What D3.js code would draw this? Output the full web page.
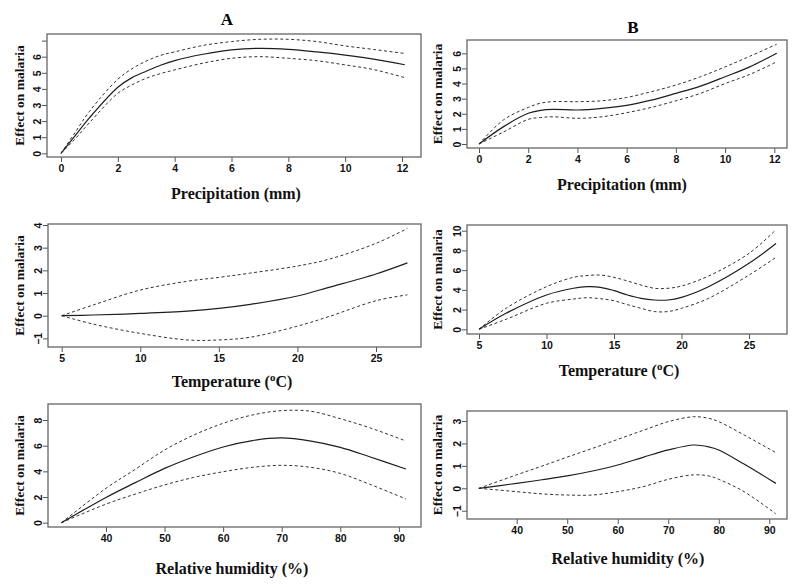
<!DOCTYPE html>
<html><head><meta charset="utf-8">
<script src="https://cdn.jsdelivr.net/npm/d3@7"></script>
<style>
body{margin:0;background:#fff;}
svg{display:block;}
</style></head>
<body>
<svg id="chart" width="800" height="587"></svg>
<script>
// ---------- DATA ----------
// Panel A, precipitation
const precipA_x     = [0, 0.5, 1, 2, 2.5, 3, 3.5, 4, 5, 6, 7, 8, 9, 10, 11, 12.1];
const precipA_fit   = [0, 1.1, 2.2, 4.1, 4.7, 5.1, 5.47, 5.76, 6.15, 6.42, 6.52, 6.46, 6.3, 6.1, 5.85, 5.5];
const precipA_upper = [0, 1.3, 2.6, 4.6, 5.25, 5.73, 6.08, 6.3, 6.7, 6.94, 7.08, 7.08, 6.94, 6.67, 6.45, 6.2];
const precipA_lower = [0, 0.9, 1.9, 3.73, 4.25, 4.66, 4.95, 5.18, 5.6, 5.9, 6.0, 5.9, 5.75, 5.49, 5.2, 4.7];
// Panel B, precipitation
const precipB_x     = [0, 1, 2, 2.5, 3, 4, 5, 6, 7, 8, 9, 10, 11, 12.1];
const precipB_fit   = [0, 1.15, 2.03, 2.22, 2.29, 2.25, 2.36, 2.56, 2.9, 3.35, 3.83, 4.45, 5.1, 6.0];
const precipB_upper = [0, 1.6, 2.42, 2.7, 2.8, 2.8, 2.86, 3.08, 3.46, 3.9, 4.45, 5.1, 5.8, 6.6];
const precipB_lower = [0, 0.8, 1.63, 1.75, 1.8, 1.7, 1.8, 2.07, 2.42, 2.86, 3.35, 4.0, 4.6, 5.44];
// Panel A, temperature
const tempA_x     = [5, 7, 10, 13, 15, 17, 20, 22, 25, 27];
const tempA_fit   = [0, 0.03, 0.1, 0.2, 0.32, 0.5, 0.87, 1.25, 1.84, 2.33];
const tempA_upper = [0, 0.47, 1.13, 1.52, 1.69, 1.88, 2.19, 2.49, 3.19, 3.85];
const tempA_lower = [0, -0.37, -0.78, -1.07, -1.07, -0.95, -0.46, -0.04, 0.66, 0.92];
// Panel B, temperature
const tempB_x     = [5, 7, 10, 12, 13, 14, 15, 16, 17, 18, 19, 20, 22, 25, 27];
const tempB_fit   = [0, 1.62, 3.48, 4.16, 4.32, 4.26, 3.92, 3.48, 3.14, 2.97, 2.97, 3.24, 4.32, 6.69, 8.7];
const tempB_upper = [0, 2.13, 4.32, 5.27, 5.45, 5.5, 5.27, 4.9, 4.49, 4.16, 4.16, 4.39, 5.4, 7.7, 10.1];
const tempB_lower = [0, 1.01, 2.64, 3.07, 3.2, 3.1, 2.9, 2.5, 2.13, 1.8, 1.8, 2.13, 3.14, 5.5, 7.3];
// Panel A, relative humidity
const humA_x     = [32.4, 40, 45, 50, 55, 60, 65, 70, 75, 80, 85, 91.2];
const humA_fit   = [0, 1.97, 3.12, 4.23, 5.14, 5.9, 6.4, 6.6, 6.35, 5.87, 5.14, 4.18];
const humA_upper = [0, 2.68, 4.16, 5.66, 6.83, 7.74, 8.39, 8.73, 8.68, 8.1, 7.4, 6.37];
const humA_lower = [0, 1.45, 2.23, 2.94, 3.53, 3.97, 4.31, 4.47, 4.31, 3.84, 3.0, 1.85];
// Panel B, relative humidity
const humB_x     = [32.5, 40, 45, 50, 55, 60, 65, 70, 75, 78, 80, 85, 91.3];
const humB_fit   = [0, 0.22, 0.38, 0.55, 0.77, 1.04, 1.38, 1.71, 1.93, 1.85, 1.71, 1.08, 0.22];
const humB_upper = [0, 0.6, 0.99, 1.39, 1.78, 2.18, 2.58, 2.97, 3.19, 3.12, 2.97, 2.38, 1.59];
const humB_lower = [0, -0.15, -0.25, -0.3, -0.3, -0.15, 0.07, 0.4, 0.6, 0.55, 0.4, -0.15, -1.14];

// Tick values and labels
const precipXTicks = [0, 2, 4, 6, 8, 10, 12];
const precipAYTicks = [0, 1, 2, 3, 4, 5, 6, 7];
const precipAYLabels = ["0", "1", "2", "3", "4", "5", "6", ""];
const precipBYTicks = [0, 1, 2, 3, 4, 5, 6];
const tempXTicks = [5, 10, 15, 20, 25];
const tempAYTicks = [-1, 0, 1, 2, 3, 4];
const tempBYTicks = [0, 2, 4, 6, 8, 10];
const humXTicks = [40, 50, 60, 70, 80, 90];
const humAYTicks = [0, 2, 4, 6, 8];
const humBYTicks = [-1, 0, 1, 2, 3];

const yTitle = "Effect on malaria";
const panelTitles = ["A", "B"];

// ---------- LAYOUT ----------
const svg = d3.select("#chart");
const serif = "'Liberation Serif','Times New Roman',serif";
const sans = "'Liberation Sans',Arial,sans-serif";

const panels = [
  {x: precipA_x, fit: precipA_fit, up: precipA_upper, lo: precipA_lower,
   box: [47, 34, 421, 157], xd: [0, 12], xr: [61, 402], yd: [0, 6], yr: [153.3, 56.7],
   xt: precipXTicks, yt: precipAYTicks, yl: precipAYLabels, title: "Precipitation (mm)", tx: 236, ty: 199, ytx: 19},
  {x: precipB_x, fit: precipB_fit, up: precipB_upper, lo: precipB_lower,
   box: [467, 40, 787, 148], xd: [0, 12], xr: [479, 774.3], yd: [0, 6], yr: [144, 53.3],
   xt: precipXTicks, yt: precipBYTicks, title: "Precipitation (mm)", tx: 622, ty: 190, ytx: 437},
  {x: tempA_x, fit: tempA_fit, up: tempA_upper, lo: tempA_lower,
   box: [48, 224, 421, 347], xd: [5, 25], xr: [61.7, 376], yd: [0, 4], yr: [315.7, 225],
   xt: tempXTicks, yt: tempAYTicks, title: "temp", tx: 232, ty: 387, ytx: 19},
  {x: tempB_x, fit: tempB_fit, up: tempB_upper, lo: tempB_lower,
   box: [467, 225, 787, 334], xd: [5, 25], xr: [479, 749], yd: [0, 10], yr: [329.3, 230.7],
   xt: tempXTicks, yt: tempBYTicks, title: "temp", tx: 619, ty: 376, ytx: 437},
  {x: humA_x, fit: humA_fit, up: humA_upper, lo: humA_lower,
   box: [48, 404, 421, 527], xd: [40, 70], xr: [106, 281.7], yd: [0, 8], yr: [522.7, 420],
   xt: humXTicks, yt: humAYTicks, title: "Relative humidity (%)", tx: 232, ty: 574, ytx: 19},
  {x: humB_x, fit: humB_fit, up: humB_upper, lo: humB_lower,
   box: [467, 411, 787, 519], xd: [40, 90], xr: [516.7, 769.3], yd: [0, 3], yr: [488.3, 421],
   xt: humXTicks, yt: humBYTicks, title: "Relative humidity (%)", tx: 628, ty: 564, ytx: 437}
];

// panel letters
svg.append("text").attr("x", 227).attr("y", 25).attr("text-anchor", "middle")
  .style("font-family", serif).style("font-weight", "bold").style("font-size", "17px")
  .text(panelTitles[0]);
svg.append("text").attr("x", 633).attr("y", 33).attr("text-anchor", "middle")
  .style("font-family", serif).style("font-weight", "bold").style("font-size", "17px")
  .text(panelTitles[1]);

panels.forEach(p => {
  const g = svg.append("g");
  const xs = d3.scaleLinear().domain(p.xd).range(p.xr);
  const ys = d3.scaleLinear().domain(p.yd).range(p.yr);
  const [bx0, by0, bx1, by1] = p.box;

  // x axis
  const xa = g.append("g").attr("transform", `translate(0,${by1})`)
    .call(d3.axisBottom(xs).tickValues(p.xt).tickSize(5).tickPadding(3).tickFormat(d3.format("d")));
  xa.select(".domain").remove();
  xa.selectAll("line").attr("stroke", "#555").attr("stroke-width", 1);
  xa.selectAll("text").style("font-family", sans).style("font-weight", "bold")
    .style("font-size", "10.5px").attr("fill", "#111");

  // y axis
  const ya = g.append("g").attr("transform", `translate(${bx0},0)`)
    .call(d3.axisLeft(ys).tickValues(p.yt).tickSize(5)
      .tickFormat((d, i) => p.yl ? p.yl[i] : d3.format("d")(d)));
  ya.select(".domain").remove();
  ya.selectAll("line").attr("stroke", "#555").attr("stroke-width", 1);
  ya.selectAll("text").attr("transform", "rotate(-90)").attr("x", 0).attr("y", -6).attr("dy", 0)
    .attr("text-anchor", "middle")
    .style("font-family", sans).style("font-weight", "bold").style("font-size", "10.5px").attr("fill", "#111");

  // box
  g.append("rect").attr("x", bx0).attr("y", by0).attr("width", bx1 - bx0).attr("height", by1 - by0)
    .attr("fill", "none").attr("stroke", "#666").attr("stroke-width", 1.3);

  // curves
  const mk = vals => p.x.map((xv, i) => [xv, vals[i]]);
  const line = d3.line().x(d => xs(d[0])).y(d => ys(d[1])).curve(d3.curveCatmullRom.alpha(0.5));
  g.append("path").attr("d", line(mk(p.up))).attr("fill", "none").attr("stroke", "#333")
    .attr("stroke-width", 1).attr("stroke-dasharray", "3,2.5");
  g.append("path").attr("d", line(mk(p.lo))).attr("fill", "none").attr("stroke", "#333")
    .attr("stroke-width", 1).attr("stroke-dasharray", "3,2.5");
  g.append("path").attr("d", line(mk(p.fit))).attr("fill", "none").attr("stroke", "#1e1e1e")
    .attr("stroke-width", 1.2);

  // x title
  const t = g.append("text").attr("x", p.tx).attr("y", p.ty).attr("text-anchor", "middle")
    .style("font-family", serif).style("font-weight", "bold").style("font-size", "16px").attr("fill", "#111");
  if (p.title === "temp") {
    t.append("tspan").text("Temperature (");
    t.append("tspan").attr("dy", -6).style("font-size", "11px").text("o");
    t.append("tspan").attr("dy", 6).text("C)");
  } else {
    t.text(p.title);
  }

  // y title
  const cy = (by0 + by1) / 2;
  g.append("text").attr("transform", `translate(${p.ytx + 5},${cy}) rotate(-90)`)
    .attr("text-anchor", "middle")
    .style("font-family", serif).style("font-weight", "bold").style("font-size", "13.5px").attr("fill", "#111")
    .text(yTitle);
});
</script>
</body></html>
